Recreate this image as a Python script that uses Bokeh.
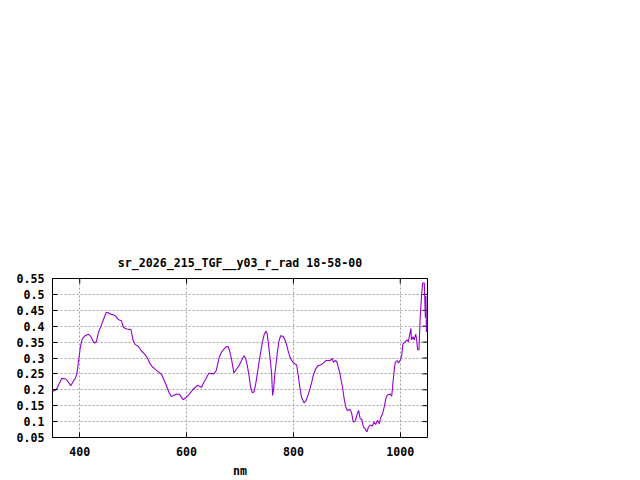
import math
from bokeh.plotting import figure
from bokeh.models import Range1d, FixedTicker, CustomJSTickFormatter
from bokeh.embed import file_html
from bokeh.resources import INLINE

title_text = "sr_2026_215_TGF__y03_r_rad 18-58-00"
x_label = "nm"

wavelength = [349, 356, 366.5, 374, 378, 383, 387, 392, 395, 398, 401, 404.6, 410, 416,
              421, 424.6, 427.8, 431, 435, 440, 444.6, 449.6, 452.8, 457, 463, 468, 473,
              478, 482, 488, 496, 500, 504, 510, 515, 520, 526, 531,
              535, 541.6, 548, 553, 557, 561.6, 566.6, 571.6, 576, 581, 587, 590.4, 593.5,
              598, 604, 610, 616.6, 620, 624, 628, 632, 636.6, 641.6, 646.6, 651, 655.4,
              659, 661.6, 665.4, 670, 674, 678, 680.4, 684, 688.5, 693, 698,
              703, 707.5, 710.6, 713.7, 716.8, 720, 723, 726, 729, 732.4, 735.6, 738.7,
              741.8, 745, 748.7, 751, 754, 757.5, 759.3, 761, 763, 765, 767.5, 770, 773,
              776, 780.6, 783.7, 786.8, 790, 793.7, 796.8, 801, 806, 809, 812.4, 815.6,
              820, 823.7, 827.4, 831, 834.3, 837.4, 841.8, 846, 851, 856, 860.6, 865,
              868.7, 872.5, 875, 878, 881, 884, 887,
              888.8, 892, 895, 898, 901, 905.6, 908.8, 912, 915.6, 918.8, 922, 925, 928,
              931, 934, 937.5, 940.6, 943.8, 948, 951, 954, 957.5, 960.6, 963.8, 967,
              970, 973, 976, 980.6, 984, 987, 989, 990.6, 994, 997, 1000, 1002.5, 1005,
              1009, 1012.5, 1015, 1017.5, 1020, 1021, 1024, 1026, 1029, 1030.6, 1032.5,
              1035, 1036, 1037.5, 1040, 1042, 1045, 1047, 1048, 1049, 1050.5]

reflectance = [0.195, 0.200, 0.236, 0.234, 0.226, 0.213, 0.224, 0.237, 0.255, 0.292, 0.333,
               0.360, 0.370, 0.375, 0.367, 0.354, 0.347, 0.351, 0.380, 0.401, 0.422, 0.443,
               0.443, 0.438, 0.436, 0.430, 0.420, 0.417, 0.396, 0.391, 0.389, 0.354, 0.342,
               0.336, 0.323, 0.315, 0.302, 0.284,
               0.274, 0.264, 0.255, 0.249, 0.234, 0.216, 0.193, 0.179, 0.182, 0.187, 0.185,
               0.177, 0.169, 0.174, 0.184, 0.197, 0.208, 0.214, 0.211, 0.208, 0.222, 0.236,
               0.252, 0.251, 0.250, 0.260, 0.286, 0.305, 0.318, 0.328, 0.335, 0.336, 0.323,
               0.297, 0.253, 0.264, 0.276,
               0.292, 0.307, 0.299, 0.276, 0.245, 0.208, 0.191, 0.193, 0.214, 0.250, 0.286,
               0.318, 0.349, 0.372, 0.384, 0.375, 0.333, 0.281, 0.247, 0.182, 0.203, 0.245,
               0.281, 0.318, 0.354, 0.370, 0.368, 0.359, 0.344, 0.323, 0.302, 0.292, 0.284,
               0.278, 0.245, 0.203, 0.174, 0.159, 0.166, 0.184, 0.203, 0.224, 0.247, 0.266,
               0.276, 0.278, 0.284, 0.292, 0.292, 0.292, 0.299, 0.286, 0.292, 0.289, 0.271,
               0.252,
               0.234, 0.208, 0.172, 0.146, 0.135, 0.139, 0.128, 0.099, 0.101, 0.120, 0.135,
               0.109, 0.107, 0.083, 0.078, 0.068, 0.083, 0.089, 0.086, 0.099, 0.091, 0.104,
               0.093, 0.114, 0.125, 0.146, 0.172, 0.184, 0.187, 0.180, 0.234, 0.266, 0.286,
               0.292, 0.284, 0.294, 0.305, 0.344, 0.351, 0.357, 0.351, 0.372, 0.393, 0.357,
               0.367, 0.357, 0.375, 0.359, 0.326, 0.326, 0.372, 0.434, 0.500, 0.536, 0.536,
               0.427, 0.495, 0.382, 0.420]

x_ticks = [400, 600, 800, 1000]
y_ticks = [0.05, 0.1, 0.15, 0.2, 0.25, 0.3, 0.35, 0.4, 0.45, 0.5, 0.55]
x_min, x_max = 349, 1051
y_min, y_max = 0.05, 0.55

FONT = "DejaVu Sans Mono"
FS = "11.6px"

p = figure(width=640, height=480, output_backend="svg", toolbar_location=None,
           x_range=Range1d(x_min, x_max), y_range=Range1d(y_min, y_max),
           min_border_left=52, min_border_right=213, min_border_top=278,
           min_border_bottom=42, title=title_text)
p.title.align = "center"
p.title.text_font = FONT
p.title.text_font_size = FS
p.title.text_font_style = "bold"
p.title.text_color = "black"
p.title.standoff = 17

p.outline_line_color = "black"
p.outline_line_width = 1
p.background_fill_color = "white"
p.border_fill_color = "white"

fmt = CustomJSTickFormatter(code="return String(Math.round(tick*100)/100);")

for ax in (p.xaxis[0], p.yaxis[0]):
    ax.axis_line_color = None
    ax.major_tick_in = 5
    ax.major_tick_out = 0
    ax.minor_tick_line_color = None
    ax.major_tick_line_color = "black"
    ax.major_label_text_font = FONT
    ax.major_label_text_font_size = FS
    ax.major_label_text_font_style = "bold"
    ax.major_label_text_color = "black"

p.xaxis[0].ticker = FixedTicker(ticks=x_ticks)
p.yaxis[0].ticker = FixedTicker(ticks=y_ticks)
p.yaxis[0].formatter = fmt
p.xaxis[0].major_label_standoff = 9
p.yaxis[0].major_label_standoff = 8
p.xaxis[0].axis_label = x_label
p.xaxis[0].axis_label_text_font = FONT
p.xaxis[0].axis_label_text_font_size = FS
p.xaxis[0].axis_label_text_font_style = "bold"
p.xaxis[0].axis_label_text_color = "black"
p.xaxis[0].axis_label_standoff = 5

p.xgrid.ticker = FixedTicker(ticks=x_ticks)
p.ygrid.ticker = FixedTicker(ticks=y_ticks)
for g in (p.xgrid[0], p.ygrid[0]):
    g.grid_line_color = "#a0a0a0"
    g.grid_line_dash = "2 2"
    g.grid_line_width = 1

# mirror tick marks on the top and right edges (half of each dash is clipped by the frame)
p.scatter(x=x_ticks, y=[y_max] * len(x_ticks), marker="dash", angle=math.pi / 2,
          size=10, line_color="black", line_width=1)
p.scatter(x=[x_max] * len(y_ticks), y=y_ticks, marker="dash",
          size=10, line_color="black", line_width=1)

p.line(wavelength, reflectance, line_color="#9400d3", line_width=1.1)

open("out.html", "w").write(file_html(p, INLINE))
